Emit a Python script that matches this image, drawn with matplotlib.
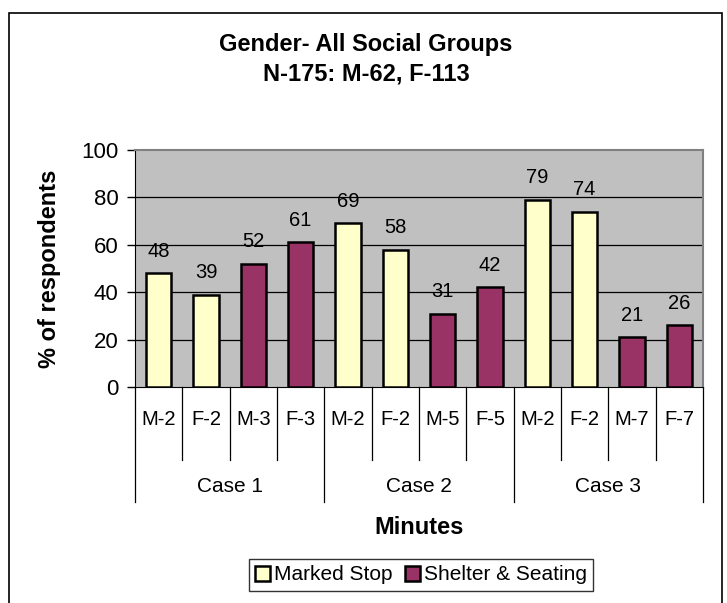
import numpy as np
import matplotlib
matplotlib.use("Agg")
import matplotlib.pyplot as plt
import matplotlib.transforms as mtransforms
from matplotlib.patches import Rectangle

plt.rcParams['font.family'] = ['Liberation Sans', 'DejaVu Sans']

# data
categories = ['M-2', 'F-2', 'M-3', 'F-3', 'M-2', 'F-2', 'M-5', 'F-5', 'M-2', 'F-2', 'M-7', 'F-7']
groups = ['Case 1', 'Case 2', 'Case 3']
marked_stop = [48, 39, 69, 58, 79, 74]      # first two bars of each case
shelter_seating = [52, 61, 31, 42, 21, 26]  # last two bars of each case

per_group = len(categories) // len(groups)
marked_idx = [g * per_group + k for g in range(len(groups)) for k in (0, 1)]
shelter_idx = [g * per_group + k for g in range(len(groups)) for k in (2, 3)]

fig = plt.figure(figsize=(7.27, 6.03), dpi=100)
ax = fig.add_axes([135 / 727, 1 - 387 / 603, 568 / 727, 237 / 603])

# outer chart frame
fig.patches.append(Rectangle((9 / 727, -0.05), 713 / 727, 1.05 - 13 / 603,
                             transform=fig.transFigure, fill=False,
                             edgecolor='black', linewidth=1.2))

ax.set_facecolor('#C0C0C0')
ax.set_xlim(-0.5, len(categories) - 0.5)
ax.set_ylim(0, 100)
ax.set_yticks(range(0, 101, 20))
for y in range(20, 100, 20):
    ax.axhline(y, color='black', linewidth=0.9, zorder=1)

w = 0.53
b1 = ax.bar(marked_idx, marked_stop, width=w, color='#FFFFCC', edgecolor='black',
            linewidth=1.8, zorder=3, label='Marked Stop')
b2 = ax.bar(shelter_idx, shelter_seating, width=w, color='#993366', edgecolor='black',
            linewidth=1.8, zorder=3, label='Shelter & Seating')

for idx, vals in ((marked_idx, marked_stop), (shelter_idx, shelter_seating)):
    for x, v in zip(idx, vals):
        ax.annotate(str(v), (x, v), xytext=(0, 9), textcoords='offset points',
                    ha='center', va='bottom', fontsize=14.5)

# spines
for s in ('top', 'right'):
    ax.spines[s].set_color('#808080')
    ax.spines[s].set_linewidth(1.5)
ax.spines['left'].set_color('black')
ax.spines['bottom'].set_color('black')

ax.tick_params(axis='y', labelsize=16, length=6, width=1, pad=6)
ax.set_xticks([])

# multi-level category axis
trans = mtransforms.blended_transform_factory(ax.transData, ax.transAxes)
for i in range(len(categories) + 1):
    depth = -0.485 if i % per_group == 0 else -0.308
    ax.plot([i - 0.5, i - 0.5], [0, depth], color='black', linewidth=0.9,
            transform=trans, clip_on=False)
for i, c in enumerate(categories):
    ax.text(i, -0.139, c, transform=trans, ha='center', va='center', fontsize=14.5)
for g, name in enumerate(groups):
    ax.text(g * per_group + (per_group - 1) / 2, -0.42, name, transform=trans,
            ha='center', va='center', fontsize=15)

fig.text(419 / 727, 1 - 528 / 603, 'Minutes', ha='center', va='center',
         fontsize=17, fontweight='bold')
fig.text(50 / 727, 1 - 269 / 603, '% of respondents', rotation=90, ha='center',
         va='center', fontsize=17, fontweight='bold')

fig.text(366 / 727, 1 - 44 / 603, 'Gender- All Social Groups', ha='center',
         va='center', fontsize=17, fontweight='bold')
fig.text(366 / 727, 1 - 74 / 603, 'N-175: M-62, F-113', ha='center',
         va='center', fontsize=17, fontweight='bold')

leg = fig.legend(handles=[b1, b2], loc='center', bbox_to_anchor=(421 / 727, 1 - 575 / 603),
                 ncol=2, fontsize=15, frameon=True, fancybox=False, shadow=False,
                 handlelength=0.7, handleheight=0.7, handletextpad=0.2,
                 columnspacing=0.6, borderpad=0.3, borderaxespad=0)
leg.get_frame().set_edgecolor('black')
leg.get_frame().set_linewidth(1.0)

fig.savefig('out.png', dpi=100)
